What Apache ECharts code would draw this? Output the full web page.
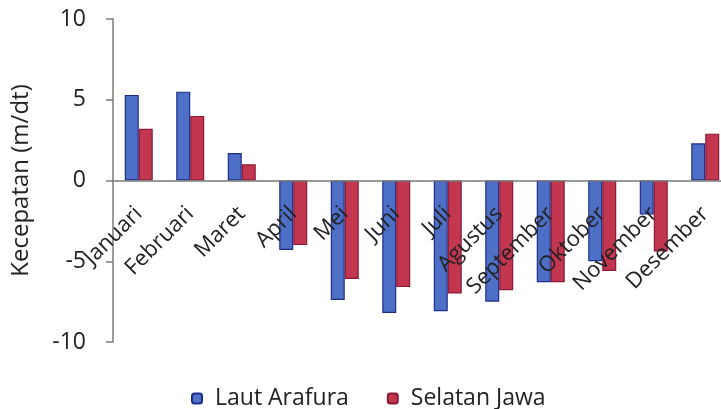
<!DOCTYPE html>
<html>
<head>
<meta charset="utf-8">
<script src="https://cdn.jsdelivr.net/npm/echarts@6/dist/echarts.min.js"></script>
<style>
  html, body { margin: 0; padding: 0; background: #ffffff; }
  #chart { width: 721px; height: 409px; }
</style>
</head>
<body>
<div id="chart"></div>
<script>
// Monthly wind speed (m/dt), two regions
const months = ['Januari', 'Februari', 'Maret', 'April', 'Mei', 'Juni', 'Juli', 'Agustus', 'September', 'Oktober', 'November', 'Desember'];
const lautArafura = [5.3, 5.5, 1.7, -4.3, -7.4, -8.2, -8.1, -7.5, -6.3, -5.0, -2.1, 2.3];
const selatanJawa = [3.2, 4.0, 1.0, -4.0, -6.1, -6.6, -7.0, -6.8, -6.3, -5.6, -4.4, 2.9];
const yTicks = { min: -10, max: 10, interval: 5 };

const FONT = '"Open Sans", sans-serif';
const GRID = { left: 113, right: -10, top: 19, bottom: 67 };
const CH = 409;

// The category axis sits on the zero line: shift it up from the grid bottom
const plotH = CH - GRID.top - GRID.bottom;
const zeroShift = plotH * (0 - yTicks.min) / (yTicks.max - yTicks.min);

const chart = echarts.init(document.getElementById('chart'));

chart.setOption({
  backgroundColor: '#ffffff',
  animation: false,
  textStyle: { fontFamily: FONT, color: '#222' },
  grid: Object.assign({ containLabel: false, outerBoundsMode: 'none' }, GRID),
  legend: {
    top: 382,
    left: 186,
    itemWidth: 10,
    itemHeight: 10,
    itemGap: 38,
    textStyle: { fontFamily: FONT, fontSize: 23, color: '#222', padding: [0, 0, 0, 8] },
    data: ['Laut Arafura', 'Selatan Jawa']
  },
  xAxis: {
    type: 'category',
    data: months,
    offset: -zeroShift,
    z: 10,
    axisLine: { onZero: false, lineStyle: { color: '#7a7a7a', width: 1.5 } },
    axisTick: { show: false },
    axisLabel: {
      rotate: 45,
      margin: 30,
      interval: 0,
      fontFamily: FONT,
      fontSize: 22,
      color: '#222'
    },
    splitLine: { show: false }
  },
  yAxis: {
    type: 'value',
    min: yTicks.min,
    max: yTicks.max,
    interval: yTicks.interval,
    name: 'Kecepatan (m/dt)',
    nameLocation: 'middle',
    nameGap: 80,
    nameTextStyle: { fontFamily: FONT, fontSize: 24, color: '#222' },
    axisLine: { show: true, lineStyle: { color: '#7a7a7a', width: 1.5 } },
    axisTick: { show: true, length: 7, lineStyle: { color: '#7a7a7a', width: 1.5 } },
    axisLabel: { margin: 27, fontFamily: FONT, fontSize: 23, color: '#222' },
    splitLine: { show: false }
  },
  series: [
    {
      name: 'Laut Arafura',
      type: 'bar',
      data: lautArafura,
      barWidth: 14,
      barGap: '0%',
      itemStyle: { color: '#4d6fc6', borderColor: '#1f2d8a', borderWidth: 1.2 }
    },
    {
      name: 'Selatan Jawa',
      type: 'bar',
      data: selatanJawa,
      barWidth: 14,
      barGap: '0%',
      itemStyle: { color: '#c2364f', borderColor: '#8a1a38', borderWidth: 1.2 }
    }
  ]
});
</script>
</body>
</html>
